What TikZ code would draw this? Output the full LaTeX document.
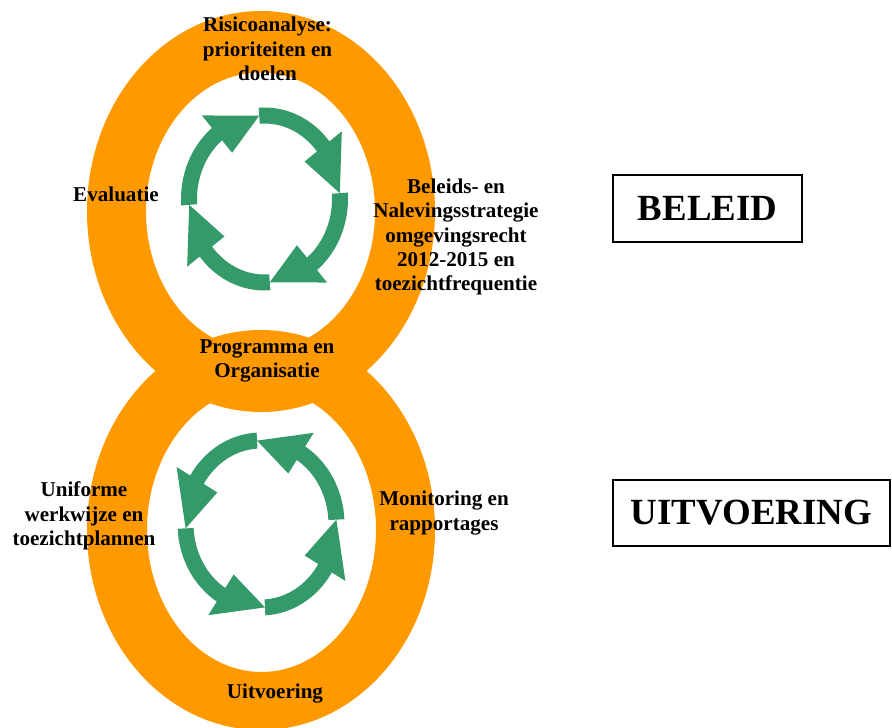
\documentclass[tikz,border=0pt]{standalone}
\usepackage{fontspec}
\setmainfont{Liberation Serif}
\definecolor{ringor}{RGB}{255,153,0}
\definecolor{cycgreen}{RGB}{53,154,106}
\newcommand\cycarrow[2]{%
  \pgfmathsetmacro\ahd{#1+55*#2}%
  \pgfmathsetmacro\atp{#1+90*#2}%
  \fill[cycgreen] (#1:83.5 and 91.5) arc[start angle=#1, end angle=\ahd, x radius=83.5, y radius=91.5]
    -- (\ahd:99.5 and 107.5) -- (\atp:75.5 and 83.5) -- (\ahd:51.5 and 59.5) -- (\ahd:67.5 and 75.5)
    arc[start angle=\ahd, end angle=#1, x radius=67.5, y radius=75.5] -- cycle;}
\begin{document}
\begin{tikzpicture}[x=0.02cm,y=0.02cm,
  lbl/.style={font=\bfseries\fontsize{12}{13.8}\selectfont, align=center, inner sep=0pt},
  bigbox/.style={draw, line width=1.1pt, font=\bfseries\fontsize{21}{24}\selectfont, inner sep=0pt}]
\useasboundingbox (0,0) rectangle (892,727);
% rings (annuli; top one drawn over the bottom one)
\fill[ringor, even odd rule] (261,197) ellipse[x radius=174, y radius=200]
  (261.5,197) ellipse[x radius=114.5, y radius=142];
\fill[ringor, even odd rule] (261,515.5) ellipse[x radius=174, y radius=200.5]
  (260.5,515.5) ellipse[x radius=114.5, y radius=139];
% top cycle (clockwise)
\begin{scope}[shift={(264.5,528)}]
  \cycarrow{94}{-1}
  \cycarrow{4}{-1}
  \cycarrow{-86}{-1}
  \cycarrow{-176}{-1}
\end{scope}
% bottom cycle (counter-clockwise)
\begin{scope}[shift={(261,203)}]
  \cycarrow{3}{1}
  \cycarrow{93}{1}
  \cycarrow{183}{1}
  \cycarrow{273}{1}
\end{scope}
% labels
\node[lbl] (risico) at (267.5,678) {Risicoanalyse:\\prioriteiten en\\doelen};
\node[lbl] (evaluatie) at (116,533) {Evaluatie};
\node[lbl] (beleids) at (456,490) {Beleids- en\\Nalevingsstrategie\\omgevingsrecht\\2012-2015 en\\toezichtfrequentie};
\node[lbl] (programma) at (267,366) {Programma en\\Organisatie};
\node[lbl] (uniforme) at (84,211) {Uniforme\\werkwijze en\\toezichtplannen};
\node[lbl] (monitoring) at (444,214) {Monitoring en\\rapportages};
\node[lbl] (uitvoering) at (275,33) {Uitvoering};
% boxes
\node[bigbox, minimum width=3.78cm, minimum height=1.34cm] (beleid) at (707.5,518.5) {BELEID};
\node[bigbox, minimum width=5.54cm, minimum height=1.32cm] (uitv) at (751.5,214) {UITVOERING};
\end{tikzpicture}
\end{document}
